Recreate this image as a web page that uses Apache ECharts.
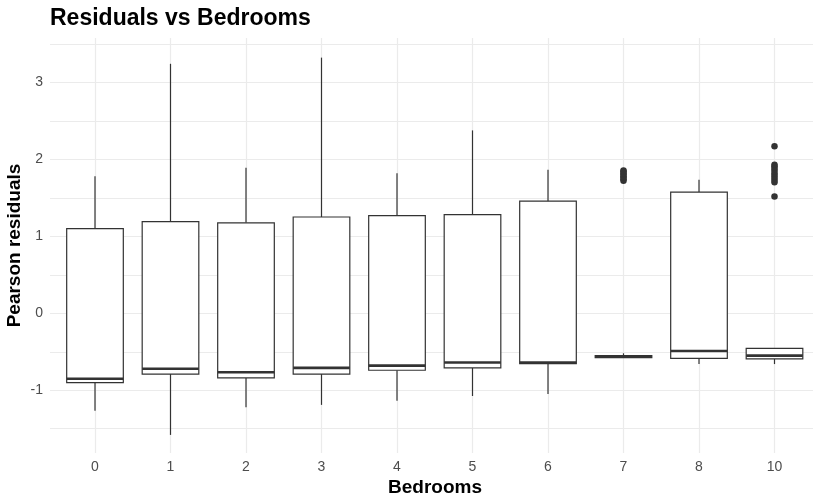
<!DOCTYPE html>
<html>
<head>
<meta charset="utf-8">
<script src="https://cdn.jsdelivr.net/npm/echarts@6/dist/echarts.min.js"></script>
<style>
  html, body { margin: 0; padding: 0; background: #ffffff; }
  #chart { width: 813px; height: 499px; }
</style>
</head>
<body>
<div id="chart"></div>
<script>
// Bedroom categories and the five-number summaries of the Pearson residuals
const bedrooms = ['0', '1', '2', '3', '4', '5', '6', '7', '8', '10'];
const lowerWhisker = [-1.265, -1.58, -1.22, -1.19, -1.135, -1.075, -1.05, -0.575, -0.66, -0.66];
const q1 = [-0.90, -0.79, -0.84, -0.79, -0.74, -0.71, -0.655, -0.575, -0.585, -0.593];
const median = [-0.85, -0.72, -0.767, -0.71, -0.68, -0.64, -0.64, -0.565, -0.49, -0.55];
const q3 = [1.10, 1.19, 1.175, 1.25, 1.267, 1.28, 1.456, -0.55, 1.574, -0.455];
const upperWhisker = [1.78, 3.24, 1.89, 3.32, 1.82, 2.375, 1.865, -0.52, 1.735, -0.455];

// Outlying residuals (beyond 1.5 IQR)
const outliers7 = [1.72, 1.74, 1.76, 1.78, 1.80, 1.82, 1.84, 1.855];
const outliers10 = [2.168, 1.93, 1.91, 1.88, 1.85, 1.82, 1.79, 1.76, 1.73, 1.70, 1.518];

// Y gridline ticks (labelled at whole numbers)
const yGridMin = -1.5;
const yGridMax = 3.5;
const yGridStep = 0.5;

// Panel extent in data units and in pixels
const yLo = -1.815, yHi = 3.575;
const panelTop = 38, panelBottom = 453;
const panelLeft = 50;
const pxPerUnit = (panelBottom - panelTop) / (yHi - yLo);
const py = v => panelTop + (yHi - v) * pxPerUnit;

const bandWidth = 75.5;
const firstCenter = 95;
const catLeft = firstCenter - bandWidth / 2;
const catWidth = bandWidth * bedrooms.length;
const lastCenter = firstCenter + bandWidth * (bedrooms.length - 1);

const gridColor = '#ebebeb';
const inkColor = '#333333';
const textGrey = '#4d4d4d';
const font = 'Liberation Sans';

const boxData = bedrooms.map((c, i) => [i, lowerWhisker[i], q1[i], median[i], q3[i], upperWhisker[i]]);

// ggplot-style box: whiskers without caps, white box, heavy median bar
function renderBox(params, api) {
  const x = api.value(0);
  const lo = api.coord([x, api.value(1)]);
  const b1 = api.coord([x, api.value(2)]);
  const md = api.coord([x, api.value(3)]);
  const b3 = api.coord([x, api.value(4)]);
  const hi = api.coord([x, api.value(5)]);
  const bw = api.size([1, 0])[0] * 0.75;
  const cx = lo[0];
  const line = { stroke: inkColor, lineWidth: 1.2 };
  return {
    type: 'group',
    children: [
      { type: 'line', shape: { x1: cx, y1: hi[1], x2: cx, y2: b3[1] }, style: line },
      { type: 'line', shape: { x1: cx, y1: b1[1], x2: cx, y2: lo[1] }, style: line },
      { type: 'rect', shape: { x: cx - bw / 2, y: b3[1], width: bw, height: b1[1] - b3[1] },
        style: { fill: '#ffffff', stroke: inkColor, lineWidth: 1.2 } },
      { type: 'line', shape: { x1: cx - bw / 2, y1: md[1], x2: cx + bw / 2, y2: md[1] },
        style: { stroke: inkColor, lineWidth: 2.6 } }
    ]
  };
}

const chart = echarts.init(document.getElementById('chart'), null, { renderer: 'canvas' });

chart.setOption({
  backgroundColor: '#ffffff',
  animation: false,
  title: {
    text: 'Residuals vs Bedrooms',
    left: panelLeft - 5,
    top: 2,
    textStyle: { fontFamily: font, fontSize: 23, fontWeight: 'bold', color: '#000000' }
  },
  grid: [
    // horizontal gridlines + y labels
    { left: panelLeft, right: 0, top: py(yGridMax), height: py(yGridMin) - py(yGridMax) },
    // vertical gridlines at category centres
    { left: firstCenter, width: lastCenter - firstCenter, top: panelTop, height: panelBottom - panelTop },
    // data panel
    { left: catLeft, width: catWidth, top: panelTop, height: panelBottom - panelTop }
  ],
  xAxis: [
    { gridIndex: 0, type: 'value', min: 0, max: 1, show: false },
    { gridIndex: 1, type: 'value', min: 0, max: bedrooms.length - 1, interval: 1,
      axisLine: { show: false }, axisTick: { show: false }, axisLabel: { show: false },
      splitLine: { show: true, lineStyle: { color: gridColor, width: 1.2 } } },
    { gridIndex: 2, type: 'category', data: bedrooms,
      axisLine: { show: false }, axisTick: { show: false }, splitLine: { show: false },
      axisLabel: { color: textGrey, fontFamily: font, fontSize: 14, margin: 7 } }
  ],
  yAxis: [
    { gridIndex: 0, type: 'value', min: yGridMin, max: yGridMax, interval: yGridStep,
      axisLine: { show: false }, axisTick: { show: false },
      splitLine: { show: true, lineStyle: { color: gridColor, width: 1.2 } },
      axisLabel: {
        color: textGrey, fontFamily: font, fontSize: 14, margin: 7,
        formatter: v => (Number.isInteger(v) ? String(v) : '')
      } },
    { gridIndex: 1, type: 'value', min: yLo, max: yHi, show: false },
    { gridIndex: 2, type: 'value', min: yLo, max: yHi, show: false }
  ],
  graphic: [
    { type: 'text', x: 435, y: 488,
      style: { text: 'Bedrooms', font: 'bold 19px "Liberation Sans"', fill: '#000000',
        align: 'center', verticalAlign: 'middle' } },
    { type: 'text', rotation: Math.PI / 2, x: 15, y: (panelTop + panelBottom) / 2,
      style: { text: 'Pearson residuals', font: 'bold 19px "Liberation Sans"', fill: '#000000',
        align: 'center', verticalAlign: 'middle' } }
  ],
  series: [
    {
      type: 'custom',
      xAxisIndex: 2, yAxisIndex: 2,
      renderItem: renderBox,
      encode: { x: 0, y: [1, 2, 3, 4, 5] },
      data: boxData,
      z: 2
    },
    {
      type: 'scatter',
      xAxisIndex: 2, yAxisIndex: 2,
      symbol: 'circle', symbolSize: 6.5,
      itemStyle: { color: inkColor, opacity: 1 },
      data: outliers7.map(v => ['7', v]).concat(outliers10.map(v => ['10', v])),
      z: 3
    }
  ]
});
</script>
</body>
</html>
